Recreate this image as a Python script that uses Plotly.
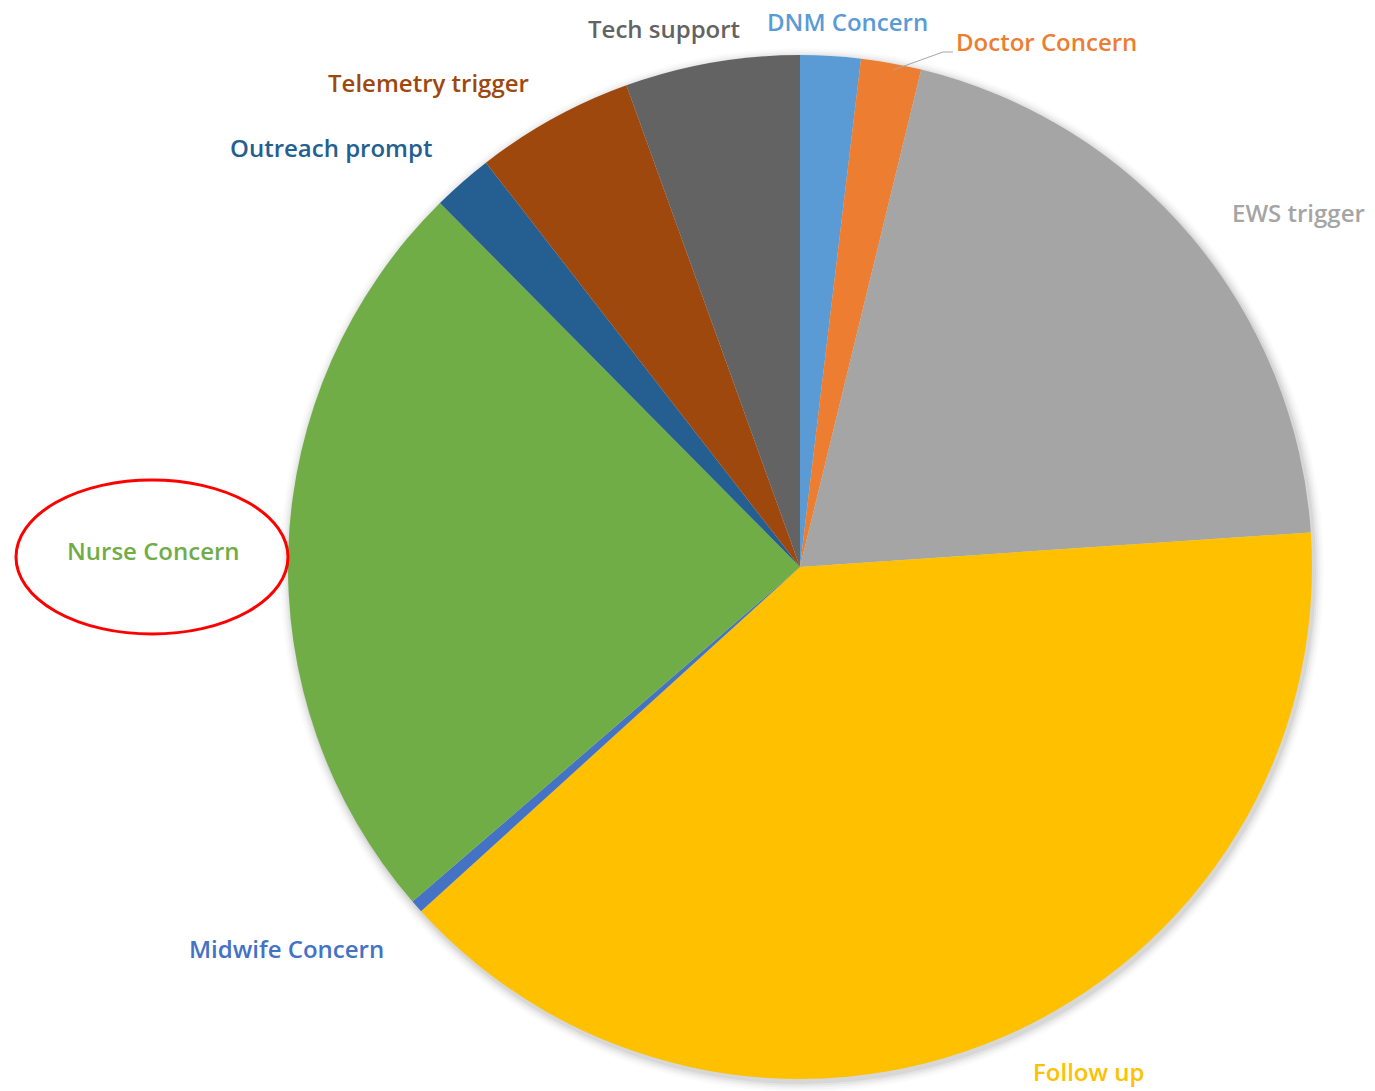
import plotly.graph_objects as go

W, H = 1375, 1091

categories = ["DNM Concern", "Doctor Concern", "EWS trigger", "Follow up", "Midwife Concern",
              "Nurse Concern", "Outreach prompt", "Telemetry trigger", "Tech support"]
values = [1.9, 1.9, 20.1, 39.3, 0.4, 23.9, 1.9, 5.0, 5.5]
colors = ["#5B9BD5", "#ED7D31", "#A5A5A5", "#FFC000", "#4472C4",
          "#70AD47", "#255E91", "#9E480E", "#636363"]

# label placement (pixels from top-left)
label_pos = {
    "DNM Concern": (848, 22),
    "Doctor Concern": (1046, 41),
    "EWS trigger": (1298, 212),
    "Follow up": (1088, 1071),
    "Midwife Concern": (286, 948),
    "Nurse Concern": (153, 550),
    "Outreach prompt": (331, 147),
    "Telemetry trigger": (428, 83),
    "Tech support": (664, 29),
}

cx, cy, R = 800, 567, 512

def px(x):
    return x / W

def py(y):
    return 1 - y / H

fig = go.Figure()
fig.add_trace(go.Pie(
    labels=categories, values=values, sort=False, direction="clockwise", rotation=0,
    marker=dict(colors=colors, line=dict(width=0)),
    textinfo="none", hoverinfo="label+value", showlegend=False,
    domain=dict(x=[px(cx - R), px(cx + R)], y=[py(cy + R), py(cy - R)]),
))

shapes = []
# soft shadow
for i, a in enumerate([0.05, 0.04, 0.03, 0.02, 0.015]):
    d = 2 + i * 2
    shapes.append(dict(type="circle", xref="paper", yref="paper", layer="below",
                       x0=px(cx - R - d + 2), x1=px(cx + R + d + 2),
                       y0=py(cy + R + d + 3), y1=py(cy - R - d + 3),
                       fillcolor=f"rgba(0,0,0,{a})", line=dict(width=0)))
# red ellipse around Nurse Concern
shapes.append(dict(type="circle", xref="paper", yref="paper",
                   x0=px(16), x1=px(288), y0=py(634), y1=py(480),
                   line=dict(color="#FF0000", width=3), fillcolor="rgba(0,0,0,0)"))
# leader line for Doctor Concern
shapes.append(dict(type="path", xref="paper", yref="paper",
                   path=f"M {px(893)} {py(70)} L {px(943)} {py(52)} L {px(953)} {py(52)}",
                   line=dict(color="#A6A6A6", width=1)))

annotations = []
for cat, col in zip(categories, colors):
    x, y = label_pos[cat]
    annotations.append(dict(x=px(x), y=py(y), xref="paper", yref="paper", text=cat,
                            showarrow=False, xanchor="center", yanchor="middle",
                            font=dict(family="Open Sans", size=24, color=col, weight=600)))

fig.update_layout(width=W, height=H, margin=dict(l=0, r=0, t=0, b=0),
                  paper_bgcolor="white", plot_bgcolor="white",
                  shapes=shapes, annotations=annotations)

fig.write_html("out.html")
